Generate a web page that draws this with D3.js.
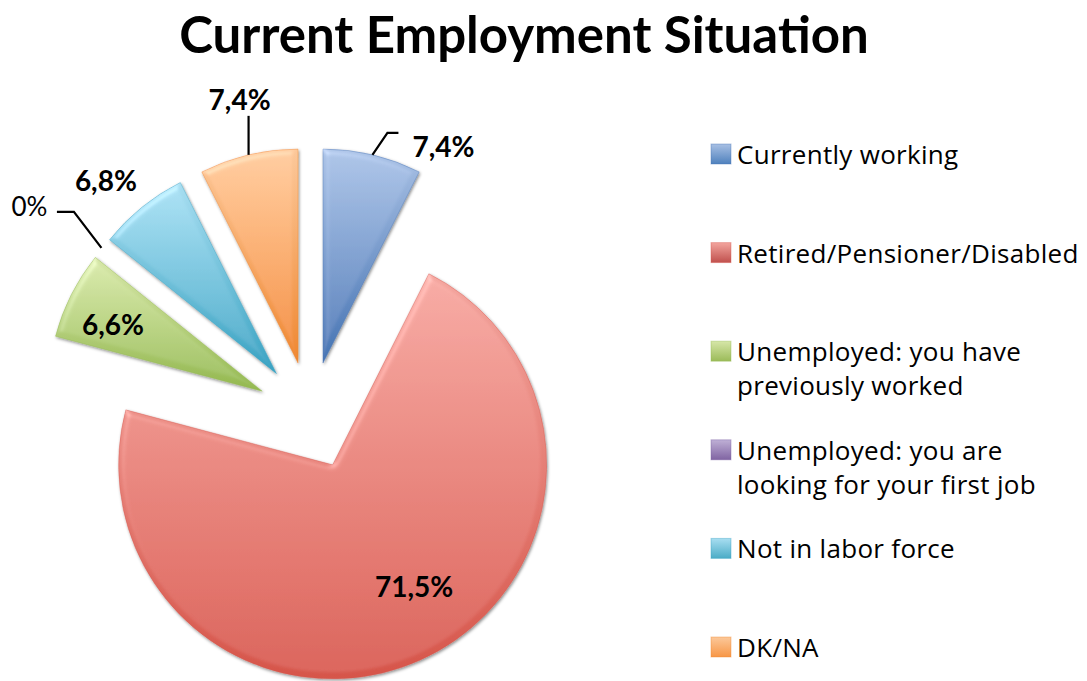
<!DOCTYPE html>
<html>
<head>
<meta charset="utf-8">
<script src="https://cdn.jsdelivr.net/npm/d3@7"></script>
<style>
  html, body { margin: 0; padding: 0; background: #fff; }
  svg { display: block; }
  text { font-family: Lato, "Open Sans", sans-serif; fill: #000; }
</style>
</head>
<body>
<svg id="chart" width="1087" height="681"></svg>
<script>
// ---- data ----
const categories = [
  "Currently working",
  "Retired/Pensioner/Disabled",
  "Unemployed: you have previously worked",
  "Unemployed: you are looking for your first job",
  "Not in labor force",
  "DK/NA"
];
const legendLines = [
  ["Currently working"],
  ["Retired/Pensioner/Disabled"],
  ["Unemployed: you have", "previously worked"],
  ["Unemployed: you are", "looking for your first job"],
  ["Not in labor force"],
  ["DK/NA"]
];
const values = [7.4, 71.5, 6.6, 0, 6.8, 7.4];
const valueLabels = ["7,4%", "71,5%", "6,6%", "0%", "6,8%", "7,4%"];
const title = "Current Employment Situation";

// ---- styles ----
const baseColors = ["#4f81bd", "#c0504d", "#9bbb59", "#8064a2", "#4bacc6", "#f79646"];
const topColors  = ["#a8c0e4", "#f3a59e", "#d6e6a8", "#bfb0d6", "#a8def1", "#fcc89a"];
const botColors  = ["#4674b3", "#d6554a", "#93b84f", "#7a5f9f", "#38a2c2", "#ef8730"];

// label layout: radius factor / leader offsets, text offsets
const labelLayout = [
  {bold: true,  leader: [[0,0],[15,-22],[26,-22]], text: [40, -9], anchor: "start"},
  {bold: true,  inside: 0.7, text: [20, -15], anchor: "middle"},
  {bold: true,  inside: 0.75, text: [-6, 5], anchor: "middle"},
  {bold: false, leader: [[0,0],[-27.5,-36],[-44.5,-36]], text: [-54, -42], anchor: "end"},
  {bold: true,  inside: 1.0, text: [-36, -27], anchor: "middle"},
  {bold: true,  leader: [[0,0],[0,-39]], text: [-9, -56], anchor: "middle"}
];

const W = 1087, H = 681;
const cx = 310.5, cy = 415.6, R = 214, explode = 54;

const svg = d3.select("#chart");
const defs = svg.append("defs");

baseColors.forEach((c, i) => {
  const g = defs.append("linearGradient").attr("id", "grad" + i)
    .attr("x1", 0).attr("y1", 0).attr("x2", 0).attr("y2", 1);
  g.append("stop").attr("offset", "0%").attr("stop-color", topColors[i]);
  g.append("stop").attr("offset", "100%").attr("stop-color", botColors[i]);
});

// bevel-ish highlight + shadow filter
const bevel = defs.append("filter").attr("id", "bevel")
  .attr("x", "-10%").attr("y", "-10%").attr("width", "120%").attr("height", "120%");
bevel.append("feGaussianBlur").attr("in", "SourceAlpha").attr("stdDeviation", 3).attr("result", "blur");
bevel.append("feSpecularLighting").attr("in", "blur").attr("surfaceScale", 3)
  .attr("specularConstant", 0.5).attr("specularExponent", 20)
  .attr("lighting-color", "#ffffff").attr("result", "spec")
  .append("feDistantLight").attr("azimuth", 235).attr("elevation", 45);
bevel.append("feComposite").attr("in", "spec").attr("in2", "SourceAlpha")
  .attr("operator", "in").attr("result", "specIn");
bevel.append("feComposite").attr("in", "SourceGraphic").attr("in2", "specIn")
  .attr("operator", "arithmetic").attr("k1", 0).attr("k2", 1).attr("k3", 0.4).attr("k4", 0)
  .attr("result", "lit");
bevel.append("feDropShadow").attr("dx", 1).attr("dy", 1.5)
  .attr("stdDeviation", 1.6).attr("flood-color", "#000").attr("flood-opacity", 0.45);

// ---- title ----
svg.append("text")
  .attr("x", 524).attr("y", 53)
  .attr("text-anchor", "middle")
  .style("font-weight", "bold").style("font-size", "51px")
  .text(title);

// ---- pie ----
const pie = d3.pie().sort(null).value(d => d);
const arcs = pie(values);
const arc = d3.arc().innerRadius(0).outerRadius(R);
const polar = (r, a) => [r * Math.sin(a), -r * Math.cos(a)];

const g = svg.append("g").attr("transform", `translate(${cx},${cy})`);

arcs.forEach((a, i) => {
  const mid = (a.startAngle + a.endAngle) / 2;
  const off = polar(explode, mid);
  a.off = off; a.mid = mid;
  if (a.value > 0) {
    g.append("path")
      .attr("transform", `translate(${off[0]},${off[1]})`)
      .attr("d", arc(a))
      .attr("fill", `url(#grad${i})`)
      .attr("stroke", botColors[i]).attr("stroke-opacity", 0.5).attr("stroke-width", 0.8)
      .attr("filter", "url(#bevel)");
  }
});

// ---- labels ----
arcs.forEach((a, i) => {
  const L = labelLayout[i];
  let base;
  if (L.leader) {
    const o = polar(R, a.mid);
    base = [a.off[0] + o[0], a.off[1] + o[1]];
    const pts = L.leader.map(p => [base[0] + p[0], base[1] + p[1]]);
    g.append("path").attr("d", d3.line()(pts))
      .attr("fill", "none").attr("stroke", "#000").attr("stroke-width", 2.2);
  } else {
    const o = polar(R * L.inside, a.mid);
    base = [a.off[0] + o[0], a.off[1] + o[1]];
  }
  g.append("text")
    .attr("x", base[0] + L.text[0]).attr("y", base[1] + L.text[1])
    .attr("text-anchor", L.anchor)
    .attr("dominant-baseline", "central")
    .style("font-weight", L.bold ? "bold" : "normal")
    .style("font-size", L.bold ? "28px" : "26px")
    .text(valueLabels[i]);
});

// ---- legend ----
const legendY = d3.scalePoint().domain(d3.range(categories.length)).range([164, 657]);
const leg = svg.append("g");
categories.forEach((c, i) => {
  const y = legendY(i);
  const sg = defs.append("linearGradient").attr("id", "lg" + i)
    .attr("x1", 0).attr("y1", 0).attr("x2", 0).attr("y2", 1);
  sg.append("stop").attr("offset", "0%").attr("stop-color", topColors[i]);
  sg.append("stop").attr("offset", "100%").attr("stop-color", baseColors[i]);
  leg.append("rect").attr("x", 711).attr("y", y - 20).attr("width", 20).attr("height", 20)
    .attr("fill", `url(#lg${i})`).attr("stroke", botColors[i]).attr("stroke-opacity", 0.4);
  const t = leg.append("text").attr("x", 737).attr("y", y)
    .style("font-family", "'Open Sans', Lato, sans-serif").style("font-size", "26px")
    .style("letter-spacing", "0.3px");
  legendLines[i].forEach((ln, k) => {
    t.append("tspan").attr("x", 737).attr("dy", k === 0 ? 0 : 34).text(ln);
  });
});
</script>
</body>
</html>
